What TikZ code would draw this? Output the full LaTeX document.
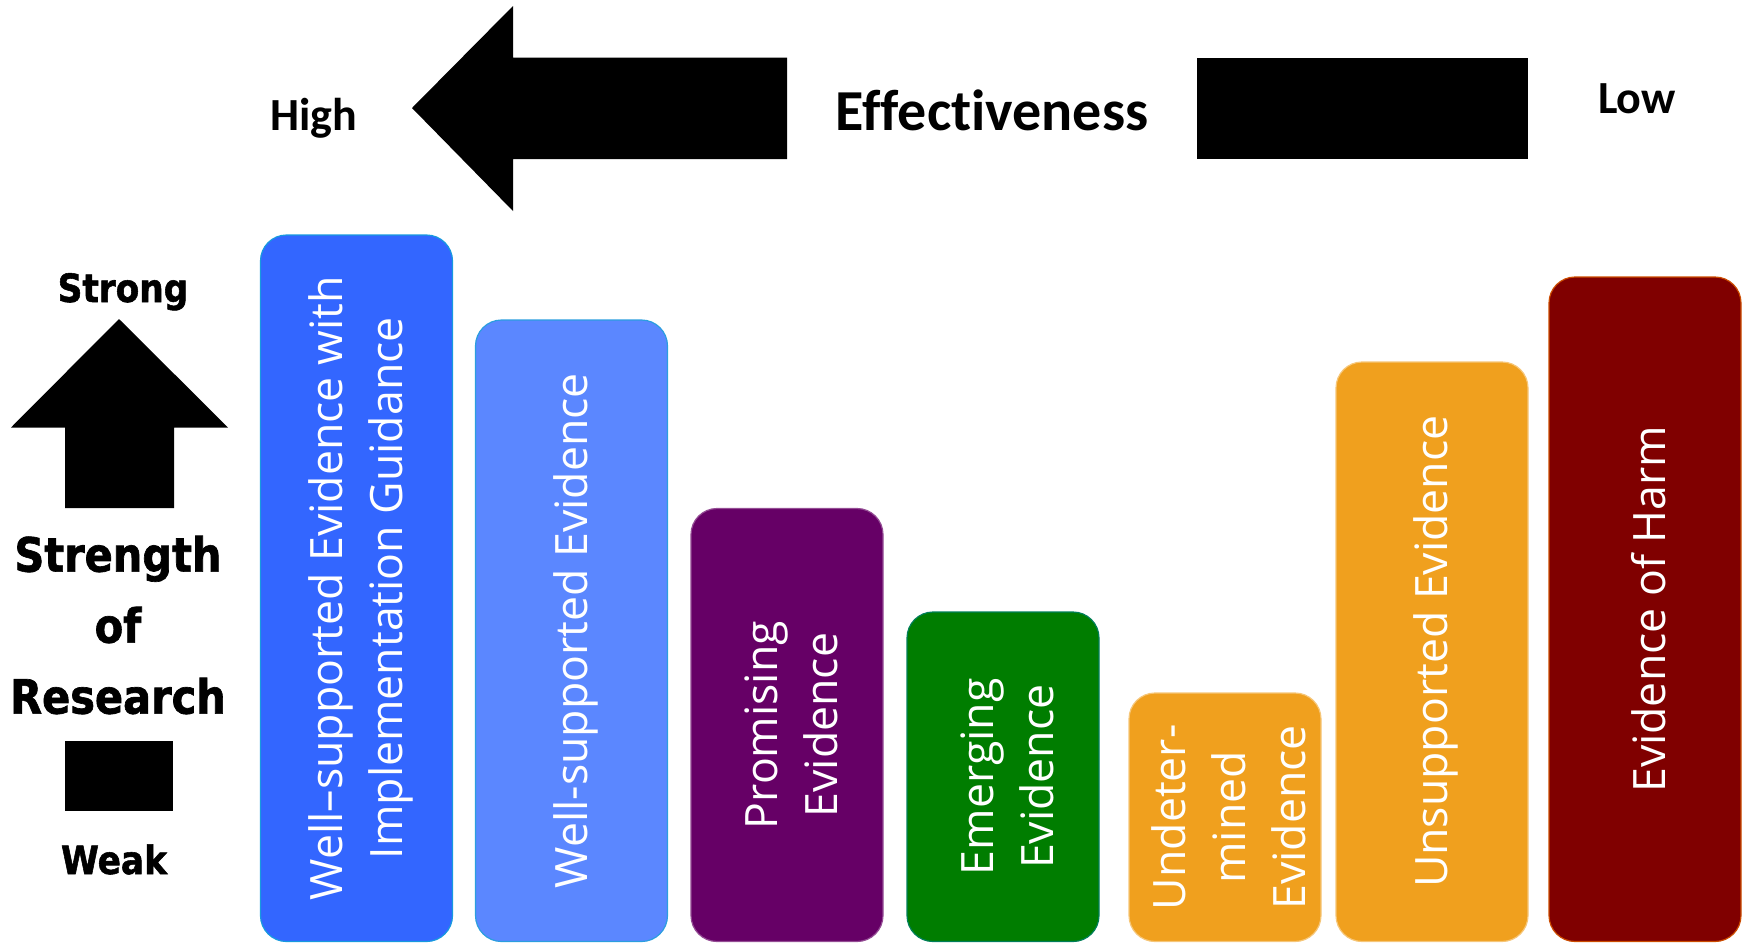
\documentclass[tikz,border=0pt]{standalone}
\usepackage{fontspec}
\setmainfont{Open Sans}
\newfontfamily\calfont[Ligatures=NoCommon]{Carlito}
\newfontfamily\verfont[FakeStretch=0.88,FakeBold=1.4]{DejaVu Sans Bold}
\usetikzlibrary{positioning}
\definecolor{EvBlue}{HTML}{3366FF}
\definecolor{EvSky}{HTML}{5B87FF}
\definecolor{EvPurple}{HTML}{660066}
\definecolor{EvGreen}{HTML}{007D00}
\definecolor{EvOrange}{HTML}{F0A01E}
\definecolor{EvRed}{HTML}{800000}
\tikzset{bar/.style={rounded corners=13pt,line width=.6pt},bartext/.style={rotate=90,text=white,align=center,font=\fontsize{22.3}{30}\selectfont},headtext/.style={font=\calfont\bfseries\fontsize{23}{28}\selectfont},sidetext/.style={font=\verfont\fontsize{19.5}{23}\selectfont}}

\begin{document}
\begin{tikzpicture}[x=.5pt,y=-.5pt]
\useasboundingbox (0,0) rectangle (1746,943);
% effectiveness arrow
\fill (412,108)--(513,6)--(513,57.5)--(787,57.5)--(787,159)--(513,159)--(513,211)--cycle;
\fill (1197,57.5) rectangle (1528,159);
\node[headtext,anchor=base] (high) at (313.5,130) {High};
\node[headtext,font=\calfont\bfseries\fontsize{29}{34}\selectfont,anchor=base] (eff) at (992,130) {Effectiveness};
\node[headtext,anchor=base] (low) at (1637,113.5) {Low};
% strength arrow
\fill (119,319)--(228,427.5)--(174,427.5)--(174,508)--(65,508)--(65,427.5)--(11,427.5)--cycle;
\fill (65,740.5) rectangle (173,810.5);
\node[sidetext,anchor=base] (strong) at (123,302) {Strong};
\node[sidetext,font=\verfont\fontsize{23.6}{35.5}\selectfont,align=center] (sor) at (118,625) {Strength\\of\\Research};
\node[sidetext,anchor=base] (weak) at (114,874) {Weak};
% evidence bars
\foreach \n/\xl/\yt/\col/\edge/\lab in {wsig/260.5/235/EvBlue/cyan!70!EvBlue/{Well--supported Evidence with\\Implementation Guidance},wse/475.5/320/EvSky/cyan!60!EvSky/{Well-supported Evidence},prom/691/508.5/EvPurple/EvPurple!70!white/{Promising\\Evidence},emer/907/612/EvGreen/teal!70!EvGreen/{Emerging\\Evidence},undet/1129/693/EvOrange/EvOrange!60!white/{Undeter-\\mined\\Evidence},unsup/1336/362/EvOrange/EvOrange!60!white/{Unsupported Evidence},harm/1549/277/EvRed/orange!60!EvRed/{Evidence of Harm}}{
\draw[bar,fill=\col,draw=\edge] (\xl,\yt) rectangle (\xl+192,941.5);
\node[bartext] (\n) at (\xl+100,{(\yt+941.5)/2}) {\lab};}
\end{tikzpicture}
\end{document}
